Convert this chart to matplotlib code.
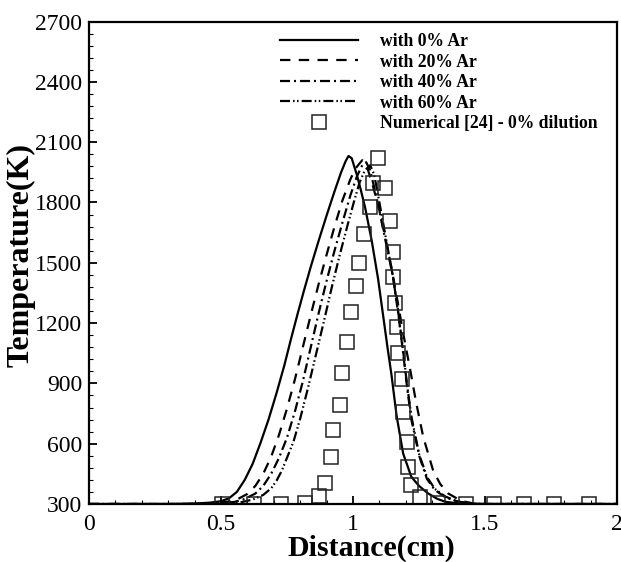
import matplotlib
matplotlib.use("Agg")
import matplotlib.pyplot as plt
from matplotlib.ticker import MultipleLocator, FuncFormatter

plt.rcParams['font.family'] = ['Liberation Serif', 'DejaVu Serif']
plt.rcParams['lines.scale_dashes'] = False

# ---- data ----
x0 = [0, 0.30, 0.40, 0.46, 0.50, 0.53, 0.56, 0.59, 0.62, 0.65, 0.68, 0.71, 0.74, 0.765, 0.79, 0.815,
      0.84, 0.87, 0.90, 0.93, 0.955, 0.972, 0.983, 0.995, 1.014, 1.03, 1.046, 1.071, 1.095, 1.115,
      1.13, 1.146, 1.165, 1.19, 1.221, 1.25, 1.284, 1.32, 1.35, 1.40, 1.45, 2.0]
T0 = [300, 300, 302, 307, 314, 328, 360, 420, 500, 605, 720, 850, 990, 1120, 1245, 1365,
      1480, 1610, 1735, 1855, 1950, 2005, 2031, 2020, 1940, 1860, 1774, 1609, 1420, 1229,
      1085, 940, 740, 551, 435, 390, 353, 325, 311, 303, 300, 300]

x20 = [0, 0.35, 0.45, 0.52, 0.56, 0.60, 0.63, 0.66, 0.69, 0.72, 0.75, 0.78, 0.81, 0.84, 0.87,
       0.90, 0.93, 0.96, 0.99, 1.01, 1.035, 1.05, 1.075, 1.10, 1.12, 1.145, 1.17, 1.19, 1.217,
       1.24, 1.266, 1.303, 1.33, 1.36, 1.41, 1.46, 1.5, 2.0]
T20 = [300, 300, 303, 310, 322, 350, 390, 450, 535, 645, 775, 920, 1080, 1240, 1395,
       1540, 1680, 1810, 1915, 1970, 2010, 1990, 1885, 1760, 1640, 1480, 1300, 1150, 965,
       799, 634, 469, 400, 353, 315, 302, 300, 300]

x40 = [0, 0.38, 0.48, 0.55, 0.59, 0.63, 0.66, 0.69, 0.72, 0.75, 0.78, 0.81, 0.84, 0.87, 0.90,
       0.93, 0.96, 0.99, 1.015, 1.035, 1.05, 1.065, 1.09, 1.12, 1.15, 1.17, 1.19, 1.205, 1.221,
       1.253, 1.28, 1.31, 1.35, 1.39, 1.44, 1.5, 2.0]
T40 = [300, 300, 303, 310, 325, 352, 390, 450, 530, 630, 760, 910, 1080, 1250, 1410,
       1560, 1700, 1835, 1930, 1985, 2000, 1960, 1820, 1630, 1440, 1260, 1050, 880, 720,
       530, 425, 370, 333, 315, 302, 300, 300]

x60 = [0, 0.45, 0.52, 0.58, 0.62, 0.66, 0.69, 0.71, 0.73, 0.75, 0.775, 0.80, 0.83, 0.86, 0.89, 0.92,
       0.95, 0.98, 1.005, 1.025, 1.045, 1.065, 1.08, 1.10, 1.125, 1.15, 1.17, 1.19,
       1.205, 1.222, 1.25, 1.28, 1.31, 1.35, 1.39, 1.44, 1.5, 2.0]
T60 = [300, 300, 302, 310, 322, 345, 378, 415, 465, 530, 612, 725, 880, 1045, 1210, 1380,
       1540, 1690, 1810, 1900, 1960, 1985, 1940, 1800, 1620, 1440, 1270, 1060,
       890, 730, 550, 435, 375, 337, 316, 302, 300, 300]

x_num = [0.503, 0.625, 0.729, 0.817, 0.870, 0.893, 0.918, 0.924, 0.949, 0.958, 0.979, 0.993,
         1.011, 1.024, 1.042, 1.065, 1.075, 1.096, 1.121, 1.140, 1.152, 1.152, 1.159, 1.165,
         1.171, 1.184, 1.190, 1.203, 1.209, 1.221, 1.253, 1.322, 1.429, 1.535, 1.648, 1.761, 1.893]
T_num = [300, 300, 300, 306, 340, 404, 535, 667, 791, 951, 1105, 1253,
         1386, 1497, 1642, 1778, 1898, 2022, 1873, 1708, 1551, 1427, 1300, 1179,
         1050, 920, 758, 609, 485, 394, 336, 306, 300, 300, 300, 300, 300]

labels = ['with 0% Ar', 'with 20% Ar', 'with 40% Ar', 'with 60% Ar',
          'Numerical [24] - 0% dilution']
x_ticks = [0, 0.5, 1, 1.5, 2]
y_ticks = [300, 600, 900, 1200, 1500, 1800, 2100, 2400, 2700]

# ---- figure ----
W, H = 621, 562
fig = plt.figure(figsize=(W / 100, H / 100), dpi=100)
L, R, Tp, B = 89, 617, 21.5, 504
ax = fig.add_axes([L / W, 1 - B / H, (R - L) / W, (B - Tp) / H])

lw = 1.6
ax.plot(x0, T0, color='black', lw=lw, ls='-', label=labels[0])
ax.plot(x20, T20, color='black', lw=lw, ls=(0, (7.5, 6.0)), label=labels[1])
ax.plot(x40, T40, color='black', lw=lw, ls=(0, (7.2, 2.9, 1.4, 2.9)), label=labels[2])
ax.plot(x60, T60, color='black', lw=lw, ls=(0, (7.2, 2.2, 1.1, 1.8, 1.1, 2.2)), label=labels[3])
ax.plot(x_num, T_num, ls='none', marker='s', ms=9.5, mfc='none', mec='#222222', mew=1.1,
        label=labels[4])

ax.set_xlim(0, 2)
ax.set_ylim(300, 2700)
ax.set_xticks(x_ticks)
ax.set_yticks(y_ticks)
ax.xaxis.set_minor_locator(MultipleLocator(0.1))
ax.yaxis.set_minor_locator(MultipleLocator(60))
ax.xaxis.set_major_formatter(FuncFormatter(lambda v, p: '%g' % v))
ax.tick_params(which='both', direction='in', top=False, right=False)
ax.tick_params(which='major', length=6, width=1.3, labelsize=17, color='black')
ax.tick_params(axis='x', which='major', pad=7)
ax.tick_params(axis='y', which='major', pad=5)
ax.tick_params(which='minor', length=3.2, width=0.8)
for s in ax.spines.values():
    s.set_linewidth(1.6)

fig.text(371 / W, 1 - 548 / H, 'Distance(cm)', ha='center', va='center',
         fontsize=21.5, fontweight='bold')
fig.text(21 / W, 1 - 255 / H, 'Temperature(K)', ha='center', va='center',
         rotation=90, fontsize=23, fontweight='bold')

leg = ax.legend(loc='upper left', bbox_to_anchor=(280 / W, 1 - 33 / H),
                bbox_transform=fig.transFigure, frameon=False, borderpad=0,
                borderaxespad=0, handlelength=4.45, handletextpad=1.2,
                labelspacing=0.2, numpoints=1,
                prop={'family': ['Liberation Serif'], 'weight': 'bold', 'size': 12.7})

fig.savefig('out.png', dpi=100)
